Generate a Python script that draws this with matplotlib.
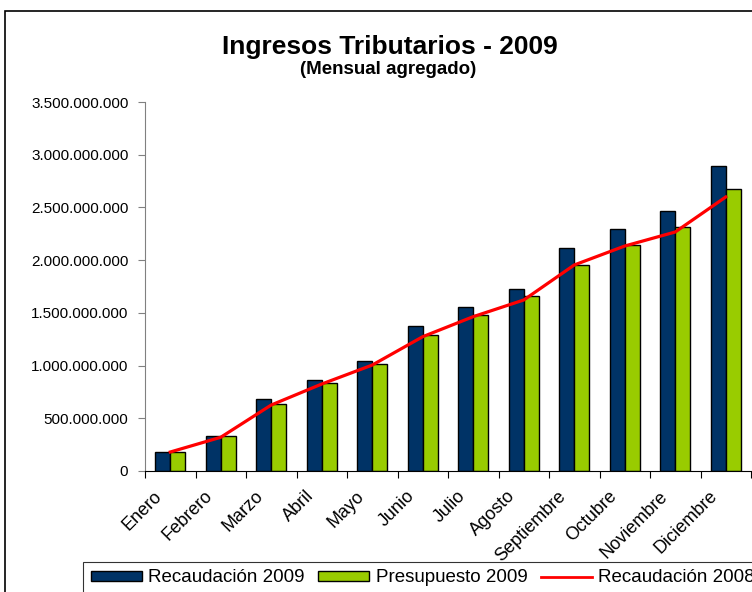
import numpy as np
import matplotlib.pyplot as plt
from matplotlib.patches import Rectangle, Patch
from matplotlib.lines import Line2D
from matplotlib.ticker import FuncFormatter
from matplotlib.transforms import ScaledTranslation

plt.rcParams['font.family'] = ['Liberation Sans', 'DejaVu Sans']

meses = ["Enero", "Febrero", "Marzo", "Abril", "Mayo", "Junio", "Julio",
         "Agosto", "Septiembre", "Octubre", "Noviembre", "Diciembre"]

# valores en millones
recaudacion_2009 = [178, 335, 683, 863, 1043, 1375, 1559, 1726, 2115, 2295, 2465, 2895]
presupuesto_2009 = [178, 333, 640, 832, 1012, 1288, 1475, 1657, 1958, 2144, 2310, 2673]
recaudacion_2008 = [180, 320, 626, 825, 1005, 1274, 1464, 1622, 1954, 2134, 2267, 2599]

rec09 = np.array(recaudacion_2009) * 1e6
pre09 = np.array(presupuesto_2009) * 1e6
rec08 = np.array(recaudacion_2008) * 1e6

fig = plt.figure(figsize=(7.52, 5.92), dpi=100)
ax = fig.add_axes([145/752, 121/592, 606/752, 369/592])

x = np.arange(len(meses))
ancho = 0.3
ax.bar(x - ancho/2, rec09, ancho, color="#003366", edgecolor="black", linewidth=1, zorder=2)
ax.bar(x + ancho/2, pre09, ancho, color="#99CC00", edgecolor="black", linewidth=1, zorder=2)
ax.plot(x, rec08, color="#FF0000", linewidth=2.3, zorder=3)

ax.set_xlim(-0.5, len(meses) - 0.5)
ax.set_ylim(0, 3.5e9)
ax.set_yticks(np.arange(0, 3.5e9 + 1, 5e8))
ax.yaxis.set_major_formatter(FuncFormatter(lambda v, p: f"{int(v):,}".replace(",", ".")))

# marcas en los limites de categoria, etiquetas en el centro
ax.set_xticks(np.arange(-0.5, len(meses)))
ax.set_xticklabels([])
ax.set_xticks(x, minor=True)
ax.set_xticklabels(meses, minor=True, rotation=45, ha="right", va="top",
                   rotation_mode="anchor", fontsize=13)
ax.tick_params(axis="x", which="minor", length=0, pad=12)
ax.tick_params(axis="x", which="major", length=5, direction="out", color="black")
ax.tick_params(axis="y", length=5, direction="out", color="#808080", labelsize=11, pad=7)
for lab in ax.get_xticklabels(minor=True):
    lab.set_transform(lab.get_transform() + ScaledTranslation(-12/72, 0, fig.dpi_scale_trans))

ax.spines["top"].set_visible(False)
ax.spines["right"].set_visible(False)
ax.spines["left"].set_color("#808080")
ax.spines["bottom"].set_color("black")

fig.text(390/752, 1 - 47/592, "Ingresos Tributarios - 2009", ha="center", va="center",
         fontsize=19, fontweight="bold")
fig.text(388/752, 1 - 70/592, "(Mensual agregado)", ha="center", va="center",
         fontsize=13.5, fontweight="bold")

# la leyenda queda cortada en el borde derecho, igual que en el original
handles = [Patch(facecolor="#003366", edgecolor="black", label="Recaudación 2009"),
           Patch(facecolor="#99CC00", edgecolor="black", label="Presupuesto 2009"),
           Line2D([0], [0], color="#FF0000", linewidth=2, label="Recaudación 2008")]
leg = fig.legend(handles=handles, loc="upper left", bbox_to_anchor=(83/752, 1 - 562/592),
                 ncol=3, fontsize=13.5, frameon=True, fancybox=False, edgecolor="black",
                 borderaxespad=0, borderpad=0.4, handlelength=2.75, handleheight=0.45,
                 handletextpad=0.33, columnspacing=0.7)
leg.get_frame().set_linewidth(0.8)

fig.patches.append(Rectangle((5/752, -0.1), 2, 1 - 11/592 + 0.1, transform=fig.transFigure,
                             fill=False, edgecolor="black", linewidth=1.2))

fig.savefig("out.png", dpi=100)
